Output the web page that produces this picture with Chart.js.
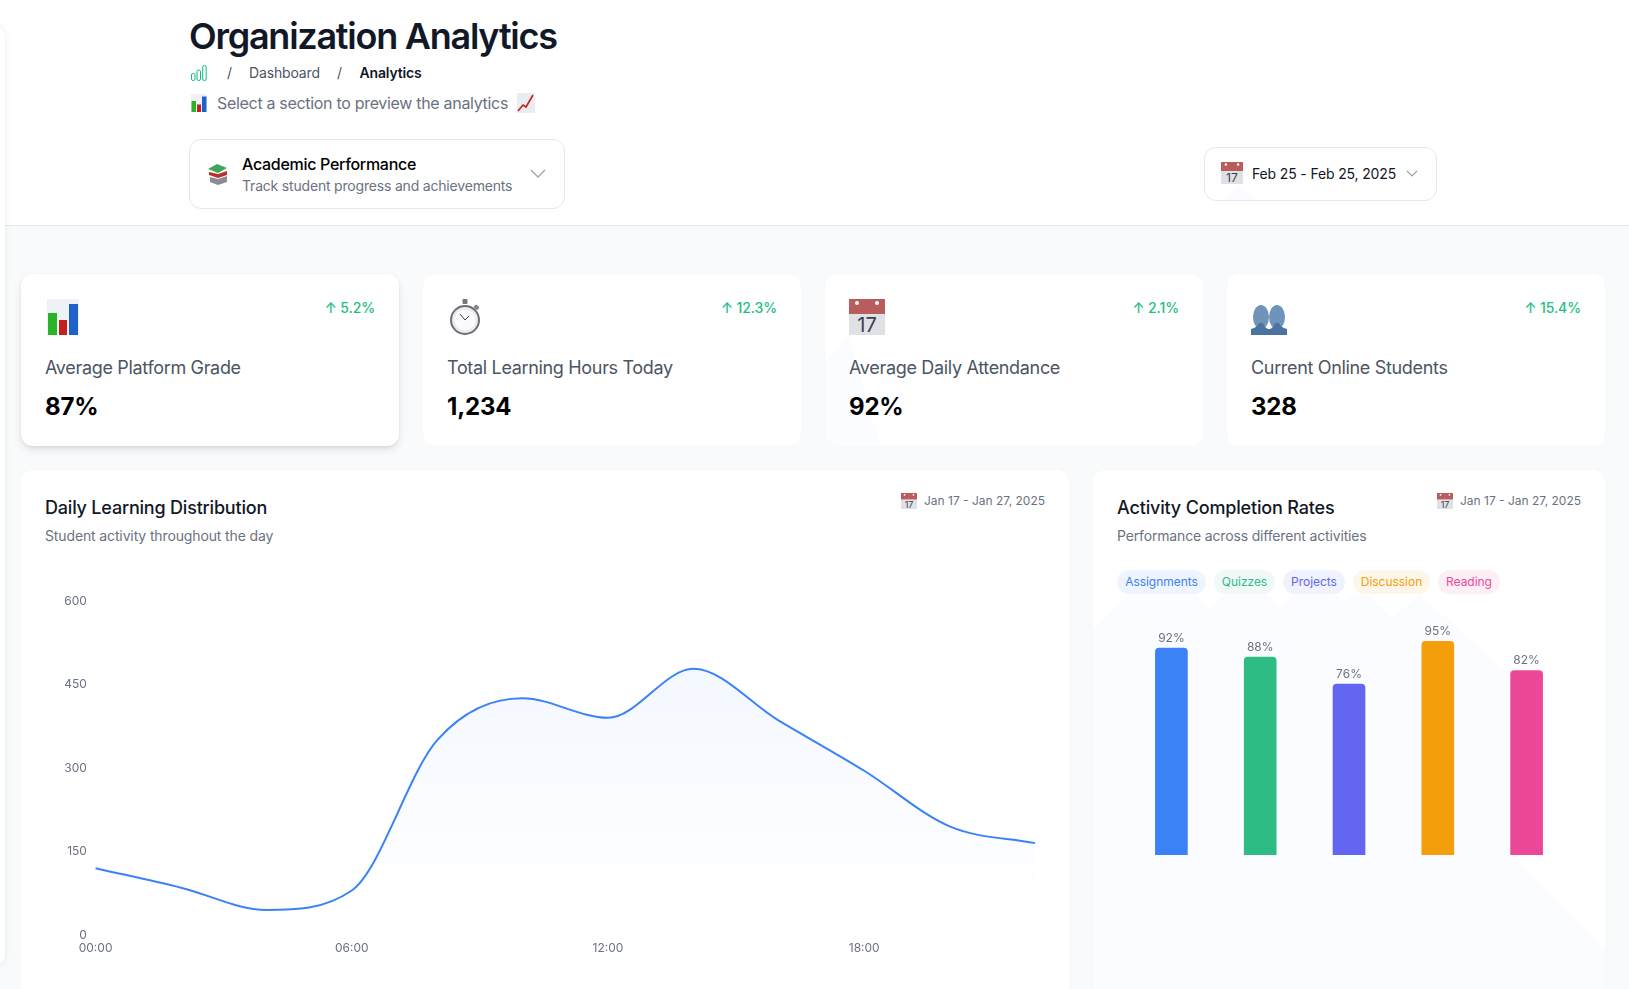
<!DOCTYPE html>
<html>
<head>
<meta charset="utf-8">
<title>Organization Analytics</title>
<script src="https://cdn.jsdelivr.net/npm/chart.js@4"></script>
<style>
  html, body { margin: 0; padding: 0; width: 1629px; height: 989px; overflow: hidden; background: #f9fafb; font-family: Inter, sans-serif; }
  .abs { position: absolute; }
  .t { position: absolute; white-space: nowrap; line-height: 20px; }
  .header { position: absolute; left: 0; top: 0; width: 1629px; height: 225px; background: #fff; border-bottom: 1px solid #e5e7eb; }
  .sidebar { position: absolute; left: -20px; top: 25px; width: 25px; height: 941px; background: #fff; border-radius: 12px; box-shadow: 0 0 6px rgba(0, 0, 0, .08); }
  .box { position: absolute; background: #fff; border: 1px solid #e5e7eb; border-radius: 12px; box-sizing: border-box; }
  .card { position: absolute; background: #fff; border-radius: 12px; box-shadow: 0 0 2px rgba(0, 0, 0, .03); overflow: hidden; }
  .tint { position: absolute; background: #fbfcff; }
  .chip { position: absolute; top: 570px; height: 24px; line-height: 24px; border-radius: 12px; font-size: 12px; text-align: center; letter-spacing: -0.03px; }
  svg.icon { position: absolute; }
  canvas { position: absolute; }
</style>
</head>
<body>
<svg width="0" height="0" style="position:absolute">
  <symbol id="ic-bars" viewBox="0 0 36 36">
    <rect x="2" y="0" width="32" height="36" fill="#eef1f5"/>
    <rect x="3" y="14" width="9" height="22" fill="#28b428"/>
    <rect x="14" y="21" width="8" height="15" fill="#c4201c"/>
    <rect x="24" y="5" width="9" height="31" fill="#1c62c8"/>
  </symbol>
  <symbol id="ic-watch" viewBox="0 0 36 36">
    <rect x="15.5" y="0" width="5" height="5" rx="1" fill="#777"/>
    <rect x="27" y="6" width="5" height="4" rx="1" fill="#888" transform="rotate(40 29 8)"/>
    <circle cx="18" cy="21" r="14" fill="#e9ebee" stroke="#6b6f75" stroke-width="2"/>
    <circle cx="18" cy="21" r="10.5" fill="#fbfbfc"/>
    <path d="M18 21 L13 15 M18 21 L22 17" stroke="#444" stroke-width="1"/>
  </symbol>
  <symbol id="ic-cal" viewBox="0 0 36 36">
    <rect x="0" y="0" width="36" height="15" fill="#b85c5c"/>
    <rect x="0" y="15" width="36" height="21" fill="#dfe1e4"/>
    <circle cx="8" cy="4" r="2" fill="#fff"/>
    <circle cx="28" cy="4" r="2" fill="#fff"/>
    <text x="18" y="33" text-anchor="middle" font-family="Inter" font-size="20" fill="#374151">17</text>
  </symbol>
  <symbol id="ic-users" viewBox="0 0 36 30">
    <ellipse cx="10" cy="12" rx="8" ry="12" fill="#6f93bb"/>
    <ellipse cx="26" cy="12" rx="8" ry="12" fill="#6f93bb"/>
    <path d="M0 30 V24 Q7 22 8 18 H12 Q13 22 17 24 Q18 24 19 24 Q23 22 24 18 H28 Q29 22 36 24 V30 Z" fill="#4c72a0"/>
  </symbol>
  <symbol id="ic-books" viewBox="0 0 22 22">
    <path d="M1 6 L10 1 L20 5 L11 10 Z" fill="#3fa55b"/>
    <path d="M2 9 L11 11 L20 8 V12 L11 15 L2 12 Z" fill="#b8312c"/>
    <path d="M3 14 L11 16 L20 13 V19 L11 22 L3 19 Z" fill="#8a8d93"/>
  </symbol>
  <symbol id="ic-up" viewBox="0 0 18 20">
    <rect x="0" y="0" width="18" height="20" fill="#e9edf2"/>
    <path d="M1 18 L6 12 L9 14 L16 2" stroke="#c4201c" stroke-width="1.6" fill="none"/>
  </symbol>
  <symbol id="ic-crumb" viewBox="0 0 16 16">
    <g fill="none" stroke="#10b981" stroke-width="1">
      <rect x="0.5" y="8.5" width="3.5" height="7" rx="1.5"/>
      <rect x="6" y="5" width="3.5" height="10.5" rx="1.5"/>
      <rect x="11.7" y="0.5" width="3.5" height="15" rx="1.5"/>
    </g>
  </symbol>
</svg>

<div class="header"></div>
<div class="sidebar"></div>

<div class="t" style="left:189px;top:14px;font-size:36px;line-height:44px;font-weight:600;letter-spacing:-1.25px;color:#111827">Organization Analytics</div>
<svg class="icon" style="left:191px;top:65px" width="16" height="16"><use href="#ic-crumb"/></svg>
<div class="t" style="left:227px;top:63px;font-size:14px;color:#4b5563">/</div>
<div class="t" style="left:249px;top:63px;font-size:14px;letter-spacing:-0.15px;color:#4b5563">Dashboard</div>
<div class="t" style="left:337px;top:63px;font-size:14px;color:#4b5563">/</div>
<div class="t" style="left:359.5px;top:63px;font-size:14px;font-weight:600;letter-spacing:-0.15px;color:#111827">Analytics</div>
<svg class="icon" style="left:190px;top:93px" width="18" height="20"><use href="#ic-bars"/></svg>
<div class="t" style="left:217px;top:93px;font-size:16px;letter-spacing:-0.31px;color:#6b7280">Select a section to preview the analytics</div>
<svg class="icon" style="left:517px;top:93px" width="18" height="20"><use href="#ic-up"/></svg>

<div class="box" style="left:189px;top:139px;width:376px;height:70px"></div>
<svg class="icon" style="left:207px;top:163px" width="22" height="22"><use href="#ic-books"/></svg>
<div class="t" style="left:242px;top:154px;font-size:16px;font-weight:500;letter-spacing:-0.3px;color:#000">Academic Performance</div>
<div class="t" style="left:242px;top:176px;font-size:14px;letter-spacing:-0.19px;color:#6b7280">Track student progress and achievements</div>
<svg class="icon" style="left:530px;top:168px" width="16" height="12"><path d="M1 2 L8 9 L15 2" fill="none" stroke="#9ca3af" stroke-width="1.3"/></svg>

<div class="box" style="left:1204px;top:147px;width:233px;height:54px"></div>
<div class="tint" style="left:1222px;top:185px;width:34px;height:15px;clip-path:polygon(0 100%,50% 0,100% 100%)"></div>
<svg class="icon" style="left:1221px;top:162px" width="22" height="22"><use href="#ic-cal"/></svg>
<div class="t" style="left:1252px;top:164px;font-size:14px;letter-spacing:-0.15px;color:#111827">Feb 25 - Feb 25, 2025</div>
<svg class="icon" style="left:1406px;top:169px" width="12" height="10"><path d="M1 2 L6 7 L11 2" fill="none" stroke="#9ca3af" stroke-width="1.2"/></svg>

<div id="stats"></div>

<div class="card" style="left:21px;top:470px;width:1048px;height:540px"></div>
<div class="t" style="left:45px;top:498px;font-size:18px;font-weight:500;letter-spacing:-0.2px;color:#111827">Daily Learning Distribution</div>
<div class="t" style="left:45px;top:526px;font-size:14px;letter-spacing:-0.13px;color:#6b7280">Student activity throughout the day</div>
<svg class="icon" style="left:901px;top:493px" width="16" height="16"><use href="#ic-cal"/></svg>
<div class="t" style="right:584px;top:491px;font-size:12px;color:#6b7280">Jan 17 - Jan 27, 2025</div>
<canvas id="lineChart"></canvas>

<div class="card" style="left:1093px;top:470px;width:512px;height:540px"></div>
<div class="tint" style="left:1093px;top:470px;width:512px;height:540px;clip-path:polygon(0 160px,34px 124px,103px 124px,117px 138px,131px 124px,174px 124px,187px 137px,200px 124px,242px 124px,250px 132px,258px 124px,274px 124px,299px 149px,326px 124px,417px 205px,417px 385px,512px 480px,512px 540px,0 540px,0 160px)"></div>
<div class="t" style="left:1117px;top:498px;font-size:18px;font-weight:500;letter-spacing:-0.17px;color:#111827">Activity Completion Rates</div>
<div class="t" style="left:1117px;top:526px;font-size:14px;letter-spacing:-0.16px;color:#6b7280">Performance across different activities</div>
<svg class="icon" style="left:1437px;top:493px" width="16" height="16"><use href="#ic-cal"/></svg>
<div class="t" style="right:48px;top:491px;font-size:12px;color:#6b7280">Jan 17 - Jan 27, 2025</div>
<div id="chips"></div>
<canvas id="barChart"></canvas>

<script>
// Stat cards
const statTitles = ['Average Platform Grade', 'Total Learning Hours Today', 'Average Daily Attendance', 'Current Online Students'];
const statValues = ['87%', '1,234', '92%', '328'];
const statChanges = ['↑ 5.2%', '↑ 12.3%', '↑ 2.1%', '↑ 15.4%'];
const statIcons = ['ic-bars', 'ic-watch', 'ic-cal', 'ic-users'];

// Daily Learning Distribution
const hourLabels = ['00:00', '02:00', '04:00', '06:00', '08:00', '10:00', '12:00', '14:00', '16:00', '18:00', '20:00', '22:00'];
const learningValues = [120, 85, 45, 80, 350, 425, 390, 478, 385, 295, 195, 165];

// Activity Completion Rates
const activityNames = ['Assignments', 'Quizzes', 'Projects', 'Discussion', 'Reading'];
const activityValues = [92, 88, 76, 95, 82];
const activityColors = ['#3b82f6', '#2dbc83', '#6366f1', '#f59e0b', '#ec4899'];
const chipTextColors = ['#3b82f6', '#2dbc83', '#6366f1', '#f59e0b', '#ec4899'];
const chipBackColors = ['#eff5fe', '#f0f8f8', '#f0f2fd', '#fef6e9', '#fdeff6'];

Chart.defaults.font.family = 'Inter';
Chart.defaults.animation = false;
Chart.defaults.responsive = false;

// Build the four stat cards
const statsElement = document.getElementById('stats');
statTitles.forEach((title, i) => {
  const left = 21 + i * 402;
  const card = document.createElement('div');
  card.className = 'card';
  card.style.cssText = `left:${left}px;top:274px;width:378px;height:172px;`;
  if (i === 0) {
    card.style.boxShadow = '0 4px 8px -1px rgba(0,0,0,.12), 0 1px 3px rgba(0,0,0,.06)';
  }
  statsElement.appendChild(card);

  if (i === 2) {
    const tint = document.createElement('div');
    tint.className = 'tint';
    tint.style.cssText = 'left:825px;top:335px;width:55px;height:111px;clip-path:polygon(0 27px,24px 0,55px 111px,10px 111px,3px 108px,0 102px)';
    statsElement.appendChild(tint);
  }

  const iconHeight = statIcons[i] === 'ic-users' ? 30 : 36;
  statsElement.insertAdjacentHTML('beforeend', `
    <svg class="icon" style="left:${left + 24}px;top:${335 - iconHeight}px" width="36" height="${iconHeight}"><use href="#${statIcons[i]}"/></svg>
    <div class="t" style="right:${1629 - (left + 354)}px;top:298px;font-size:14px;font-weight:500;letter-spacing:-0.1px;color:#22c080">${statChanges[i]}</div>
    <div class="t" style="left:${left + 24}px;top:358px;font-size:18px;letter-spacing:-0.33px;color:#4b5563">${title}</div>
    <div class="t" style="left:${left + 24}px;top:392px;font-size:24px;line-height:30px;font-weight:700;letter-spacing:-0.2px;color:#000">${statValues[i]}</div>
  `);
});

// Build the legend chips
const chipLefts = [1117, 1214, 1283, 1353, 1438];
const chipWidths = [89, 61, 62, 77, 62];
const chipsElement = document.getElementById('chips');
activityNames.forEach((name, i) => {
  const chip = document.createElement('div');
  chip.className = 'chip';
  chip.textContent = name;
  chip.style.left = chipLefts[i] + 'px';
  chip.style.width = chipWidths[i] + 'px';
  chip.style.color = chipTextColors[i];
  chip.style.background = chipBackColors[i];
  chipsElement.appendChild(chip);
});

// Line chart
function setupCanvas(id, left, top, width, height) {
  const canvas = document.getElementById(id);
  canvas.width = width;
  canvas.height = height;
  canvas.style.left = left + 'px';
  canvas.style.top = top + 'px';
  canvas.style.width = width + 'px';
  canvas.style.height = height + 'px';
  return canvas.getContext('2d');
}

new Chart(setupCanvas('lineChart', 45, 585, 1000, 380), {
  type: 'line',
  data: {
    labels: hourLabels,
    datasets: [{
      data: learningValues,
      borderColor: '#3b82f6',
      borderWidth: 2,
      pointRadius: 0,
      cubicInterpolationMode: 'monotone',
      fill: true,
      backgroundColor: (context) => {
        const area = context.chart.chartArea;
        if (!area) return 'rgba(59,130,246,0.05)';
        const gradient = context.chart.ctx.createLinearGradient(0, area.top + 70, 0, area.bottom - 30);
        gradient.addColorStop(0, 'rgba(59,130,246,0.06)');
        gradient.addColorStop(1, 'rgba(59,130,246,0)');
        return gradient;
      }
    }]
  },
  options: {
    devicePixelRatio: 1,
    layout: { padding: { top: 14, right: 10, left: 0, bottom: 0 } },
    plugins: { legend: { display: false }, tooltip: { enabled: false } },
    scales: {
      x: {
        grid: { display: false, drawTicks: false },
        border: { display: false },
        afterFit: (scale) => { scale.height = 30; },
        ticks: {
          autoSkip: false,
          maxRotation: 0,
          padding: 5.7,
          color: '#6b7280',
          font: { size: 12 },
          callback: (value, index) => (index % 3 === 0 ? hourLabels[index] : '')
        }
      },
      y: {
        min: 0,
        max: 600,
        grid: { display: false, drawTicks: false },
        border: { display: false },
        afterFit: (scale) => { scale.width = 50.6; },
        ticks: { stepSize: 150, padding: 8.7, color: '#6b7280', font: { size: 12 } }
      }
    }
  }
});

// Percent labels above the bars
const barLabels = {
  id: 'barLabels',
  afterDatasetsDraw(chart) {
    const ctx = chart.ctx;
    ctx.save();
    ctx.font = '12px Inter';
    ctx.fillStyle = '#6b7280';
    ctx.textAlign = 'center';
    ctx.textBaseline = 'middle';
    chart.getDatasetMeta(0).data.forEach((bar, i) => {
      ctx.fillText(activityValues[i] + '%', bar.x, bar.y - 10);
    });
    ctx.restore();
  }
};

// Bar chart
new Chart(setupCanvas('barChart', 1126.5, 610, 444, 245), {
  type: 'bar',
  data: {
    labels: activityNames,
    datasets: [{
      data: activityValues,
      backgroundColor: activityColors,
      barThickness: 32,
      borderRadius: { topLeft: 4, topRight: 4 },
      borderSkipped: false
    }]
  },
  plugins: [barLabels],
  options: {
    devicePixelRatio: 1,
    layout: { padding: { top: 20 } },
    plugins: { legend: { display: false }, tooltip: { enabled: false } },
    scales: {
      x: { display: false },
      y: { display: false, min: 0, max: 100 }
    }
  }
});
</script>
</body>
</html>
